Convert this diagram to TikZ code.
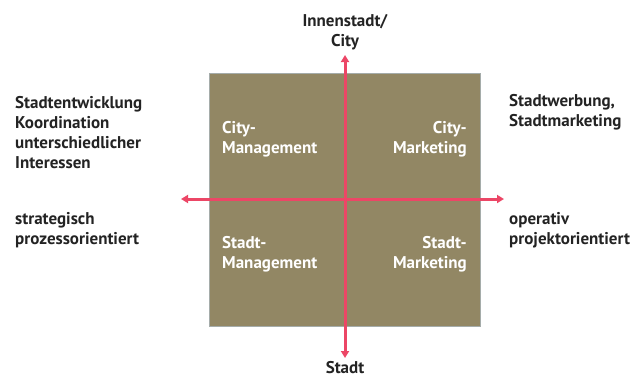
\documentclass[tikz,border=0pt]{standalone}
\usepackage{fontspec}
\setmainfont{PT Sans}
\usetikzlibrary{arrows.meta}
\definecolor{boxfill}{RGB}{146,135,100}
\definecolor{boxline}{RGB}{165,172,170}
\definecolor{axis}{RGB}{236,70,102}
\definecolor{txt}{RGB}{35,35,35}
\tikzset{
  lbl/.style={inner sep=0pt, font=\bfseries\fontsize{17}{20.3}\selectfont, text=txt},
  inlbl/.style={inner sep=0pt, font=\bfseries\fontsize{17}{20.3}\selectfont, text=white},
  axisline/.style={draw=axis, line width=3pt, {Triangle[length=7pt,width=8pt]}-{Triangle[length=7pt,width=8pt]}},
}
\begin{document}
\begin{tikzpicture}[x=1pt,y=-1pt]
\useasboundingbox (0,0) rectangle (634,378);
\node[fill=boxfill, draw=boxline, line width=1pt, minimum width=271pt, minimum height=253pt, inner sep=0pt] (box) at (344.5,199.5) {};
\coordinate (top) at (345,55);
\coordinate (bot) at (345,358);
\coordinate (lft) at (181,199);
\coordinate (rgt) at (504,199);
\draw[axisline] (bot) -- (top);
\draw[axisline] (lft) -- (rgt);
\node[lbl, align=center] (tl) at (345,32) {Innenstadt/\\City};
\node[lbl, align=center] (bl) at (345,367.5) {Stadt};
\node[lbl, align=left, anchor=west] (l1) at (15,132.5) {Stadtentwicklung\\Koordination\\unterschiedlicher\\Interessen};
\node[lbl, align=left, anchor=west] (l2) at (15,230.5) {strategisch\\prozessorientiert};
\node[lbl, align=left, anchor=west] (r1) at (509,112) {Stadtwerbung,\\Stadtmarketing};
\node[lbl, align=left, anchor=west] (r2) at (509,230.5) {operativ\\projektorientiert};
\node[inlbl, align=left, anchor=west] (q1) at (222,139) {City-\\Management};
\node[inlbl, align=right, anchor=east] (q2) at (467,139) {City-\\Marketing};
\node[inlbl, align=left, anchor=west] (q3) at (222,254.5) {Stadt-\\Management};
\node[inlbl, align=right, anchor=east] (q4) at (467,254.5) {Stadt-\\Marketing};
\end{tikzpicture}
\end{document}
